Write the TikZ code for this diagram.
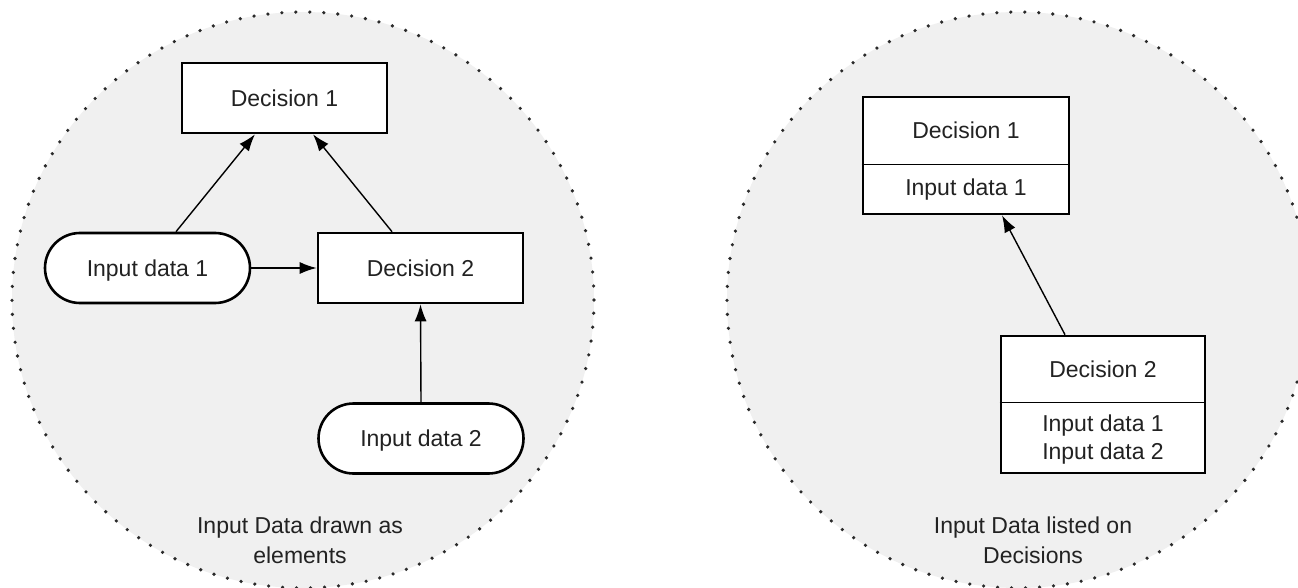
\documentclass[tikz,border=0pt]{standalone}
\usepackage{fontspec}
\setmainfont{Liberation Sans}
\usetikzlibrary{arrows.meta}
\definecolor{zonefill}{HTML}{F0F0F0}
\definecolor{dotc}{HTML}{2A2A2A}
\definecolor{txt}{HTML}{222222}
\begin{document}
\begin{tikzpicture}[x=1pt,y=-1pt,
  every node/.style={font=\fontsize{23}{29}\selectfont, text=txt},
  box/.style={draw=black, line width=2.6pt, fill=white, minimum width=205pt,
    minimum height=70pt, inner sep=0pt, text height=16.5pt, text depth=0pt},
  pill/.style={box, rounded corners=35pt},
  framebox/.style={draw=black, line width=2.6pt, fill=white, inner sep=0pt},
  arr/.style={-{Latex[length=17pt,width=12pt]}, line width=1.4pt, draw=black},
  divider/.style={line width=1.3pt, draw=black},
  zone/.style={fill=zonefill, draw=dotc, line width=3.6pt, line cap=round,
    dash pattern=on 0pt off 14pt},
  lbl/.style={anchor=base, inner sep=0pt}]
\useasboundingbox (0,0) rectangle (1298,588);
\fill[white] (0,0) rectangle (1298,588);
\clip (0,0) rectangle (1298,588);

% zones
\path[zone] (303,300) ellipse[x radius=291pt, y radius=288pt];
\path[zone] (1018,300) ellipse[x radius=291pt, y radius=288pt];

% left diagram
\node[box] (d1) at (284.5,98) {Decision 1};
\node[pill] (in1) at (147.5,268) {Input data 1};
\node[box] (d2) at (420.5,268) {Decision 2};
\node[pill] (in2) at (421,438.5) {Input data 2};

\draw[arr] ([xshift=28.5pt]in1.north) -- ([xshift=-29.5pt]d1.south);
\draw[arr] ([xshift=-28.5pt]d2.north) -- ([xshift=28.5pt]d1.south);
\draw[arr] (in1.east) -- (d2.west);
\draw[arr] (in2.north) -- (d2.south);

\node[lbl] (capl1) at (300,533) {Input Data drawn as};
\node[lbl] (capl2) at (300,563) {elements};

% right diagram
\node[framebox, minimum width=206pt, minimum height=117pt] (d1r) at (966,155.5) {};
\draw[divider] ([yshift=-69pt]d1r.north west) -- ([yshift=-69pt]d1r.north east);
\node[lbl] (d1rt) at (966,139) {Decision 1};
\node[lbl] (d1ri) at (966,196) {Input data 1};

\node[framebox, minimum width=204pt, minimum height=137pt] (d2r) at (1103,404.5) {};
\draw[divider] ([yshift=-68pt]d2r.north west) -- ([yshift=-68pt]d2r.north east);
\node[lbl] (d2rt) at (1103,377) {Decision 2};
\node[lbl] (d2ri1) at (1103,431) {Input data 1};
\node[lbl] (d2ri2) at (1103,459) {Input data 2};

\draw[arr] ([xshift=-38pt]d2r.north) -- ([xshift=36pt]d1r.south);

\node[lbl] (capr1) at (1033,533) {Input Data listed on};
\node[lbl] (capr2) at (1033,563) {Decisions};
\end{tikzpicture}
\end{document}
